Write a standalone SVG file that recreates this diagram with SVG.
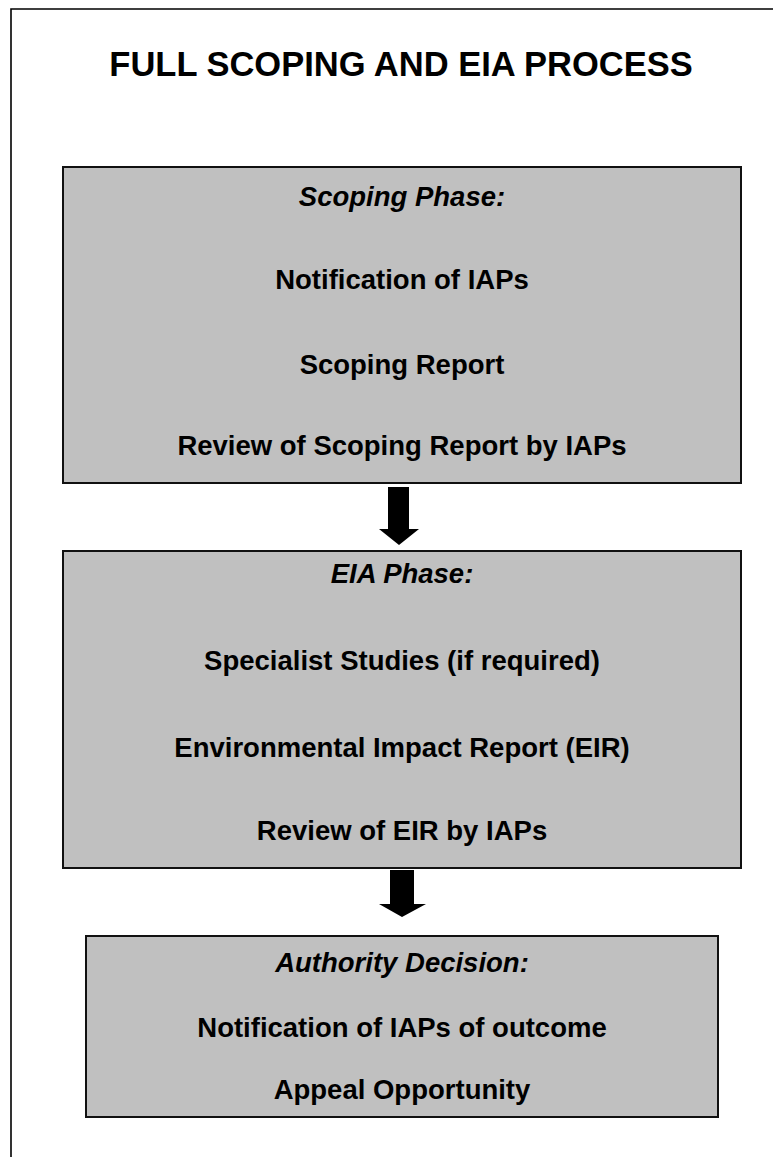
<svg xmlns="http://www.w3.org/2000/svg" width="773" height="1157" viewBox="0 0 773 1157">
<style>
.box{fill:#c0c0c0;stroke:#111;stroke-width:2}
.t{font-family:"Liberation Sans",Arial,sans-serif;font-weight:bold;font-size:27.5px;text-anchor:middle;fill:#000}
.h{font-style:italic}
.title{font-family:"Liberation Sans",Arial,sans-serif;font-weight:bold;font-size:34.5px;text-anchor:middle;fill:#000}
.arrow{fill:#000}
</style>
<rect width="773" height="1157" fill="#fff"/>
<path d="M11,1157 V9 H773" fill="none" stroke="#000" stroke-width="1.6"/>
<text class="title" x="401" y="76">FULL SCOPING AND EIA PROCESS</text>
<g id="scoping">
<rect class="box" x="63" y="167" width="678" height="316"/>
<text class="t h" x="402" y="206">Scoping Phase:</text>
<text class="t" x="402" y="289">Notification of IAPs</text>
<text class="t" x="402" y="374">Scoping Report</text>
<text class="t" x="402" y="455">Review of Scoping Report by IAPs</text>
</g>
<g id="eia">
<rect class="box" x="63" y="551" width="678" height="317"/>
<text class="t h" x="402" y="583">EIA Phase:</text>
<text class="t" x="402" y="670">Specialist Studies (if required)</text>
<text class="t" x="402" y="757">Environmental Impact Report (EIR)</text>
<text class="t" x="402" y="840">Review of EIR by IAPs</text>
</g>
<g id="decision">
<rect class="box" x="86" y="936" width="632" height="181"/>
<text class="t h" x="402" y="972">Authority Decision:</text>
<text class="t" x="402" y="1037">Notification of IAPs of outcome</text>
<text class="t" x="402" y="1099">Appeal Opportunity</text>
</g>
<g id="connectors">
<polygon class="arrow" points="388,487 409,487 409,529 419,529 399,545 379,529 388,529"/>
<polygon class="arrow" points="390,870 414,870 414,904 426,904 402,917 379,904 390,904"/>
</g>
</svg>
